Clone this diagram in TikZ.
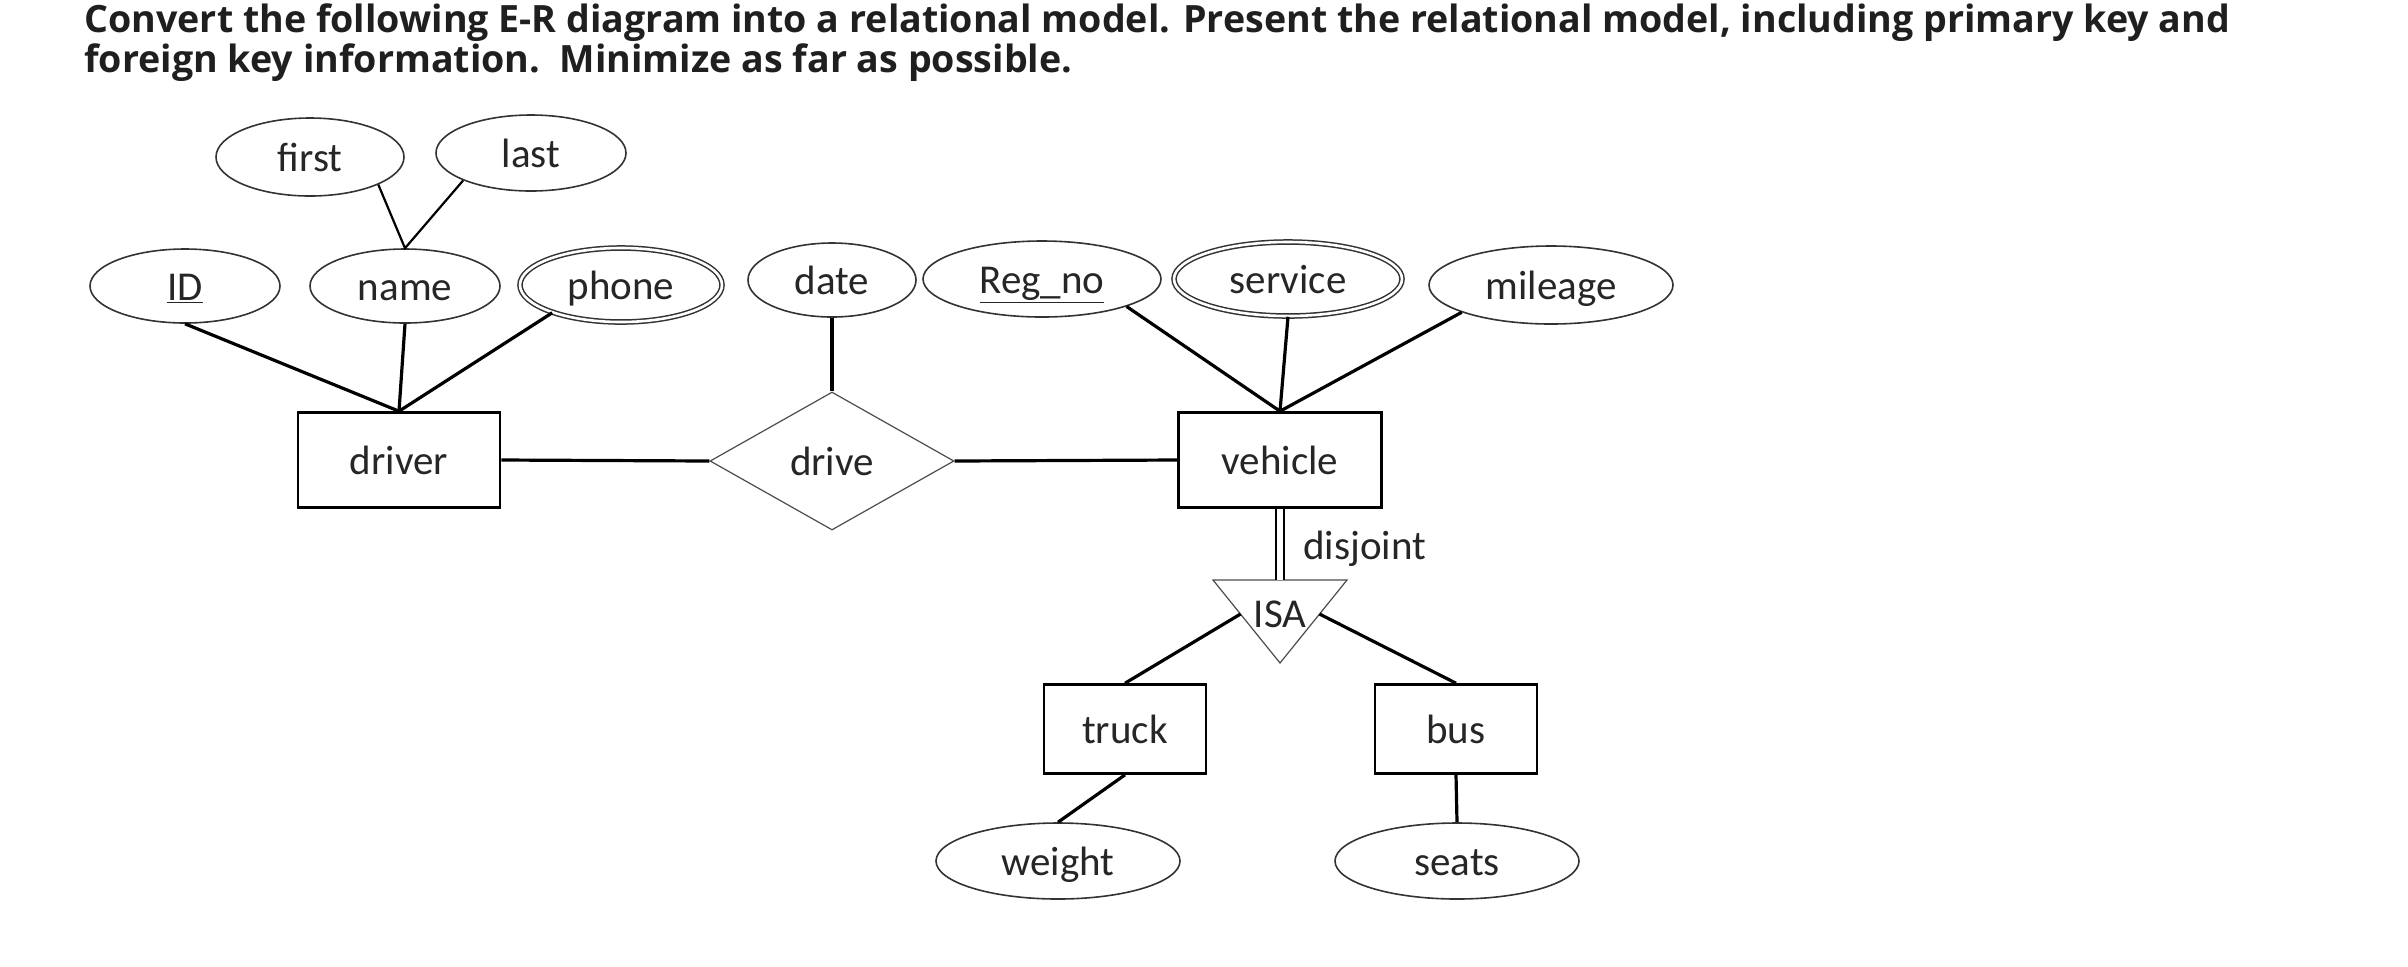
\documentclass[tikz,border=0pt]{standalone}
\usepackage{fontspec}
\setmainfont{Carlito}
\newfontfamily\titlefont{Open Sans}
\usetikzlibrary{shapes.geometric,calc}

\begin{document}
\begin{tikzpicture}[x=0.5pt,y=-0.5pt,
  every node/.style={font=\fontsize{20.5}{24}\selectfont,text=black!85,text height=15pt,text depth=1pt},
  heading/.style={anchor=base west,inner sep=0,text=black!88,font=\titlefont\bfseries\fontsize{18.8}{22}\selectfont},
  attr/.style={ellipse,draw=black!80,line width=0.8pt,minimum height=37pt,inner sep=1pt},
  multi/.style={attr,line width=0.75pt,double,double distance=1.3pt},
  ent/.style={draw,line width=1.3pt,minimum width=101pt,minimum height=47.5pt},
  sub/.style={ent,minimum width=81pt,minimum height=44.5pt},
  thinline/.style={draw=black!70,line width=0.6pt},
  lnk/.style={line width=1.6pt}]
\useasboundingbox (0,0) rectangle (2408,966);

\node[heading] (title1) at (84,32)
  {Convert the following E-R diagram into a relational model. Present the relational model, including primary key and};
\node[heading] (title2) at (84,72)
  {foreign key information.\ \ Minimize as far as possible.};

\node[attr,minimum width=94pt,minimum height=39pt] (first) at (310,157) {first};
\node[attr,minimum width=95pt,minimum height=38pt] (last) at (531,153) {last};
\node[attr,minimum width=95pt] (id) at (185,286) {\underline{ID}};
\node[attr,minimum width=95pt] (name) at (405,286) {name};
\node[multi,minimum width=101pt,minimum height=37pt] (phone) at (621,285) {phone};
\node[attr,minimum width=84pt] (date) at (832,280) {date};
\node[attr,minimum width=119pt,minimum height=38pt] (regno) at (1042,279) {\underline{Reg\_no}};
\node[multi,minimum width=114pt,minimum height=37pt] (service) at (1288,279) {service};
\node[attr,minimum width=122pt,minimum height=39pt] (mileage) at (1551,285) {mileage};

\node[ent] (driver) at (399,460) {driver};
\node[diamond,thinline,minimum width=122pt,minimum height=69pt,inner sep=0pt] (drive) at (832,461) {drive};
\node[ent,minimum width=101.5pt] (vehicle) at (1280,460) {vehicle};

\coordinate (isaTL) at (1213,580);
\coordinate (isaTR) at (1347,580);
\coordinate (isaB) at (1280,663);
\coordinate (isaT) at (1280,580);
\coordinate (isaL) at ($(isaTL)!.41!(isaB)$);
\coordinate (isaR) at ($(isaTR)!.41!(isaB)$);
\draw[thinline] (isaTL) -- (isaTR) -- (isaB) -- cycle;
\node (isa) at (1280,613) {ISA};
\node[anchor=west,inner sep=0pt] (disj) at (1303,545) {disjoint};

\node[sub] (truck) at (1125,729) {truck};
\node[sub] (bus) at (1456,729) {bus};
\node[attr,minimum width=122pt,minimum height=38pt] (weight) at (1058,861) {weight};
\node[attr,minimum width=122pt,minimum height=38pt] (seats) at (1457,861) {seats};

\draw[line width=1.1pt] (first.-22) -- (name.north) -- (last.202);
\foreach \a in {id.south,name.south,phone.202}
  \draw[lnk] (\a) -- (driver.north);
\foreach \a in {regno.-18,service.south,mileage.197}
  \draw[lnk] (\a) -- (vehicle.north);
\draw[lnk] (date.south) -- (drive.north);
\draw[lnk] (driver.east) -- (drive.west);
\draw[lnk] (drive.east) -- (vehicle.west);
\draw[line width=0.6pt,double,double distance=3.4pt] (vehicle.south) -- (isaT);
\draw[lnk] (isaL) -- (truck.north);
\draw[lnk] (isaR) -- (bus.north);
\draw[lnk] (truck.south) -- (weight.north);
\draw[lnk] (bus.south) -- (seats.north);
\end{tikzpicture}
\end{document}
